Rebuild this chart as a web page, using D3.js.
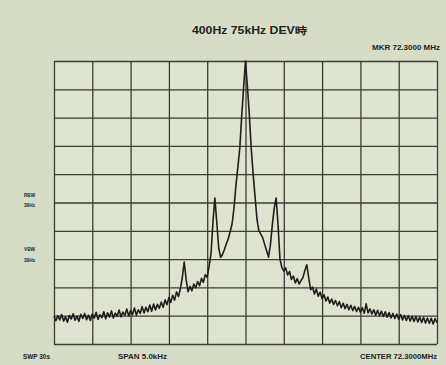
<!DOCTYPE html>
<html><head><meta charset="utf-8">
<script src="https://cdn.jsdelivr.net/npm/d3@7"></script>
<style>
html,body{margin:0;padding:0;background:#d7ddc4;}
svg{display:block;}
text{font-family:"Liberation Sans",Arial,sans-serif;font-weight:bold;fill:#222;}
</style></head>
<body>
<script>
// ---- data ----
const title = "400Hz 75kHz DEV時";
const markerLabel = "MKR 72.3000 MHz";
const leftLabels = [["RBW","30Hz"],["VBW","30Hz"]];
const bottomLabels = ["SWP 30s","SPAN 5.0kHz","CENTER 72.3000MHz"];
const freqStartHz = -2500, freqStepHz = 25;        // span 5.0 kHz around center
const freqGridHz = [-2500,-2000,-1500,-1000,-500,0,500,1000,1500,2000,2500];
const levelGridDb = [-100,-90,-80,-70,-60,-50,-40,-30,-20,-10,0];
// trace levels (dB rel. marker), one per 25 Hz from -2500 Hz to +2500 Hz
const levelsLeft = [
 -90.2,-91.8,-90.0,-91.5,-89.6,-91.9,-90.4,-92.3,-89.9,-91.2,
 -89.3,-91.6,-90.1,-92.0,-89.5,-91.0,-89.2,-91.4,-89.8,-91.7,
 -89.4,-90.9,-88.8,-91.3,-89.6,-90.7,-88.6,-91.1,-89.0,-90.5,
 -88.3,-90.8,-89.1,-90.2,-88.0,-90.4,-88.7,-89.9,-87.6,-90.1,
 -88.2,-89.6,-87.3,-89.8,-87.9,-89.2,-86.8,-89.0,-87.0,-88.6,
 -86.2,-88.4,-85.9,-88.0,-86.0,-87.4,-85.2,-87.0,-84.4,-86.1,
 -83.6,-85.3,-82.8,-84.5,-81.6,-83.2,-80.4,-76.5,-71.0,-77.2,
 -81.5,-79.6,-81.2,-78.8,-80.1,-77.9,-79.4,-76.8,-78.2,-75.5,
 -76.4,-72.5,-68.0,-57.0,-48.4,-57.0,-66.0,-69.4,-68.4,-66.6,
 -64.6,-62.8,-60.3,-57.5,-52.0,-44.0,-37.5,-31.0,-19.5,-9.5
];
const levelCenter = [0];
const levelsRight = [
 -9.0,-19.0,-31.0,-40.0,-48.0,-56.0,-60.0,-61.2,-62.5,-64.8,
 -67.0,-69.3,-65.0,-58.0,-52.0,-48.4,-58.0,-70.0,-73.0,-74.2,
 -73.1,-75.6,-74.4,-77.2,-76.0,-78.4,-76.9,-78.8,-77.6,-76.5,
 -74.0,-72.0,-76.5,-80.8,-79.9,-82.3,-80.6,-83.1,-81.7,-84.0,
 -82.6,-84.8,-83.4,-85.6,-84.1,-86.0,-84.6,-86.5,-85.0,-87.2,
 -85.6,-87.5,-86.0,-87.9,-86.3,-88.2,-86.7,-88.5,-87.0,-88.8,
 -87.2,-89.1,-85.8,-89.0,-87.6,-89.4,-87.9,-89.8,-88.1,-90.0,
 -88.4,-90.3,-88.6,-90.5,-88.9,-90.8,-89.2,-91.0,-89.4,-91.2,
 -89.6,-91.5,-89.9,-91.7,-90.0,-91.9,-90.2,-92.0,-90.3,-92.2,
 -90.5,-92.4,-90.6,-92.6,-90.8,-92.7,-90.9,-92.9,-91.0,-92.5
];

// ---- chart ----
const W = 446, H = 365;
const svg = d3.select("body").append("svg").attr("width", W).attr("height", H);
svg.append("rect").attr("width", W).attr("height", H).attr("fill", "#d7ddc4");

const x = d3.scaleLinear().domain([-2500, 2500]).range([54, 437]);
const y = d3.scaleLinear().domain([-100, 0]).range([344, 61]);

svg.append("rect").attr("x", x(-2500)).attr("y", y(0))
  .attr("width", x(2500) - x(-2500)).attr("height", y(-100) - y(0))
  .attr("fill", "#dfe4d1");

const gx = svg.append("g").attr("transform", `translate(0,${y(-100)})`)
  .call(d3.axisBottom(x).tickValues(freqGridHz).tickSize(-(y(-100) - y(0))).tickFormat(""));
const gy = svg.append("g").attr("transform", `translate(${x(-2500)},0)`)
  .call(d3.axisLeft(y).tickValues(levelGridDb).tickSize(-(x(2500) - x(-2500))).tickFormat(""));
[gx, gy].forEach(g => {
  g.select(".domain").remove();
  g.selectAll(".tick line").attr("stroke", "#3a3d36").attr("stroke-width", 1.3);
});

const levels = levelsLeft.concat(levelCenter, levelsRight);
const trace = levels.map((v, i) => ({ f: freqStartHz + i * freqStepHz, v }));
svg.append("path").datum(trace)
  .attr("fill", "none").attr("stroke", "#1e1f1c").attr("stroke-width", 1.6)
  .attr("stroke-linejoin", "round")
  .attr("d", d3.line().x(d => x(d.f)).y(d => y(d.v)));

svg.append("text").attr("x", 192).attr("y", 34)
  .attr("font-size", 10).attr("textLength", 115).attr("lengthAdjust", "spacingAndGlyphs").text(title);
svg.append("text").attr("x", 372).attr("y", 50)
  .attr("font-size", 7).attr("font-weight", "normal")
  .attr("textLength", 68).attr("lengthAdjust", "spacingAndGlyphs").text(markerLabel);

const leftY = [[197, 207], [251, 262]];
const leftW = [[11, 11], [11, 11]];
leftLabels.forEach((pair, k) => {
  pair.forEach((t, j) => svg.append("text").attr("x", 24).attr("y", leftY[k][j])
    .attr("font-size", 6).attr("textLength", leftW[k][j]).attr("lengthAdjust", "spacingAndGlyphs").text(t));
});
const bx = [23, 118, 360];
const bw = [27, 49, 77];
bottomLabels.forEach((t, k) => svg.append("text").attr("x", bx[k]).attr("y", 359)
  .attr("font-size", 7).attr("font-weight", "normal")
  .attr("textLength", bw[k]).attr("lengthAdjust", "spacingAndGlyphs").text(t));
</script>
</body></html>
